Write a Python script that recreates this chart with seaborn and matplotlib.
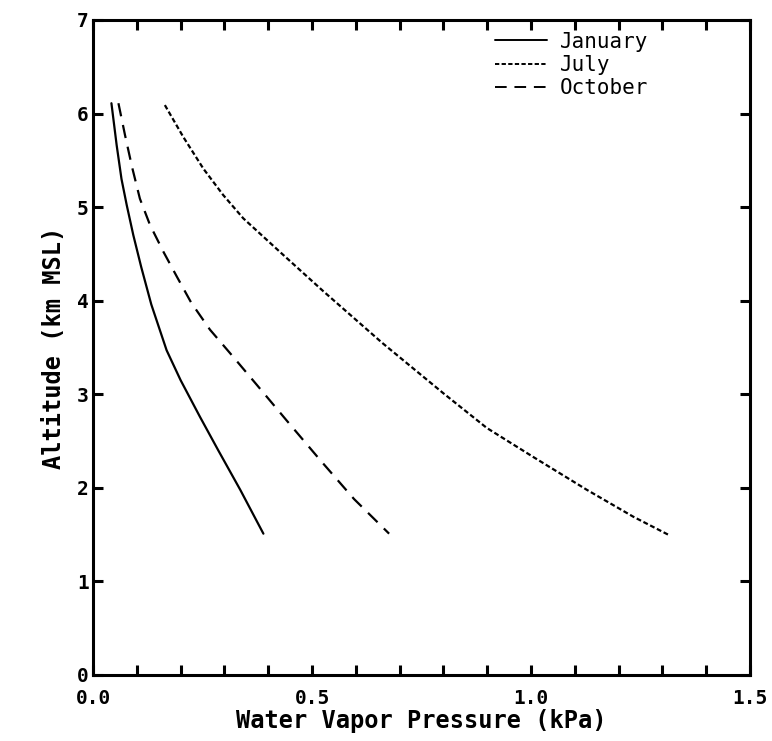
import pandas as pd
import numpy as np
import seaborn as sns
import matplotlib.pyplot as plt
from matplotlib.ticker import MultipleLocator

sns.set_style("ticks")
plt.rcParams['font.family'] = ['DejaVu Sans Mono']
plt.rcParams['text.color'] = 'black'
plt.rcParams['axes.labelcolor'] = 'black'
plt.rcParams['xtick.color'] = 'black'
plt.rcParams['ytick.color'] = 'black'
plt.rcParams['axes.edgecolor'] = 'black'

## values (x = vapor pressure kPa, y = altitude km)
jan_p = [0.042, 0.054, 0.065, 0.077, 0.092, 0.110, 0.133, 0.168, 0.200, 0.244, 0.286, 0.336, 0.389]
jan_z = [6.11, 5.66, 5.30, 5.02, 4.70, 4.36, 3.96, 3.47, 3.15, 2.76, 2.40, 1.98, 1.51]

jul_p = [0.164, 0.206, 0.252, 0.297, 0.343, 0.427, 0.526, 0.660, 0.800, 0.899, 1.005, 1.127, 1.234, 1.313]
jul_z = [6.09, 5.75, 5.41, 5.13, 4.88, 4.52, 4.10, 3.55, 3.01, 2.64, 2.33, 1.98, 1.69, 1.50]

oct_p = [0.058, 0.073, 0.089, 0.107, 0.130, 0.161, 0.191, 0.224, 0.267, 0.320, 0.374, 0.442, 0.518, 0.596, 0.676]
oct_z = [6.11, 5.77, 5.43, 5.09, 4.81, 4.52, 4.26, 3.98, 3.69, 3.40, 3.10, 2.72, 2.30, 1.88, 1.51]

months = ['January', 'July', 'October']
dash_styles = {'January': '-', 'July': (0, (2.2, 1.2)), 'October': (0, (6, 4))}

tb = pd.concat([
    pd.DataFrame({'p': jan_p, 'z': jan_z, 'month': 'January'}),
    pd.DataFrame({'p': jul_p, 'z': jul_z, 'month': 'July'}),
    pd.DataFrame({'p': oct_p, 'z': oct_z, 'month': 'October'}),
])

fig = plt.figure(figsize=(7.72, 7.41), dpi=100)
ax = fig.add_axes([0.1205, 0.0891, 0.851, 0.884])

for m in months:
    sub = tb[tb['month'] == m]
    sns.lineplot(data=sub, x='p', y='z', ax=ax, color='black', lw=1.6,
                 sort=False, estimator=None, label=m)
    ax.lines[-1].set_linestyle(dash_styles[m])

ax.set_xlim(0, 1.5)
ax.set_ylim(0, 7)
ax.xaxis.set_major_locator(MultipleLocator(0.5))
ax.xaxis.set_minor_locator(MultipleLocator(0.1))
ax.yaxis.set_major_locator(MultipleLocator(1))
ax.xaxis.set_major_formatter(plt.FormatStrFormatter('%.1f'))

for s in ax.spines.values():
    s.set_linewidth(2.2)
ax.tick_params(which='both', direction='in', top=True, right=True, length=7, width=2.2,
               labelsize=14)
ax.tick_params(axis='x', pad=10)
ax.tick_params(axis='y', pad=3)
for lab in ax.get_xticklabels() + ax.get_yticklabels():
    lab.set_fontweight('bold')

ax.set_xlabel('Water Vapor Pressure (kPa)', fontsize=17, fontweight='bold', labelpad=1)
ax.set_ylabel('Altitude (km MSL)', fontsize=17, fontweight='bold', labelpad=8)

leg = ax.legend(loc='upper left', bbox_to_anchor=(0.612, 0.982), frameon=False,
                fontsize=15, handlelength=2.5, handletextpad=0.6, labelspacing=0.15,
                borderpad=0, borderaxespad=0)
for h in leg.get_lines():
    h.set_linewidth(1.4)

plt.savefig('out.png', dpi=100)
